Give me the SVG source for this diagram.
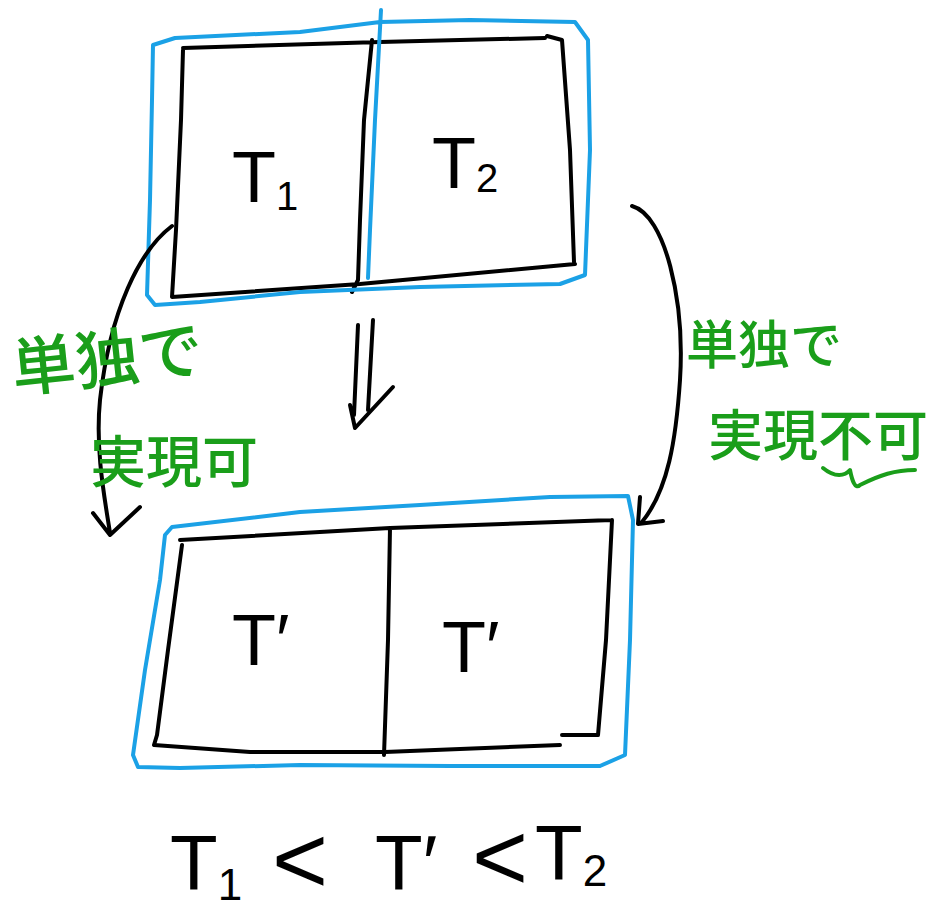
<svg xmlns="http://www.w3.org/2000/svg" width="932" height="920" viewBox="0 0 932 920">
<style>
.k{fill:none;stroke:#000;stroke-width:4;stroke-linecap:round;stroke-linejoin:round}
.b{fill:none;stroke:#1ba1e6;stroke-width:4;stroke-linecap:round;stroke-linejoin:round}
.g{fill:none;stroke:#1a9e1a;stroke-width:4;stroke-linecap:round;stroke-linejoin:round}
.t{font-family:"Liberation Sans",sans-serif;fill:#000}
.j{font-family:"Noto Sans CJK JP",sans-serif;fill:#1a9e1a;font-weight:500}
</style>
<rect width="932" height="920" fill="#fff"/>
<g id="top-box">
<path class="k" d="M183,50 L181,120 L176,230 L172,297 L360,284 L575,264 M183,48 L380,42 L545,38 M547,36 L562,40 L570,150 L574,262 M372,40 L364,120 L360,220 L358,280 L352,292"/>
<path class="b" d="M153,45 L175,38 L300,32 L380,22 L470,20 L575,22 L588,40 L590,150 L585,275 L560,284 L420,287 L300,292 L200,302 L155,305 L147,295 L150,200 L152,100 Z M381,10 L375,120 L370,230 L368,278"/>
<text class="t" x="232" y="202" font-size="72">T<tspan font-size="40" dy="8">1</tspan></text>
<text class="t" x="432" y="188" font-size="72">T<tspan font-size="40" dy="4">2</tspan></text>
</g>
<g id="bottom-box">
<path class="k" d="M182,545 L180,560 L168,650 L157,735 L154,745 L250,752 L385,752 L560,745 M180,540 L390,528 L612,520 M612,520 L606,640 L598,735 L562,735 M390,528 L388,640 L384,755"/>
<path class="b" d="M172,527 L300,512 L420,505 L550,497 L628,496 L633,520 L630,640 L625,755 L600,766 L450,766 L300,765 L180,768 L138,767 L133,755 L145,670 L160,580 L165,535 Z"/>
<text class="t" x="232" y="665" font-size="72">T′</text>
<text class="t" x="442" y="672" font-size="72">T′</text>
</g>
<g id="connectors">
<path class="k" d="M358,325 L354,415 M373,320 L368,410 M350,405 L355,428 L393,387"/>
<path class="k" d="M172,226 C140,250 110,310 100,400 C95,450 105,500 110,533 M93,513 L110,535 L140,507"/>
<path class="k" d="M632,206 C665,215 685,300 680,380 C676,440 668,490 642,522 M640,497 L638,524 L663,521"/>
</g>
<g id="label-left">
<text class="j" x="14" y="392" font-size="64" transform="rotate(-6 14 392)">単独で</text>
<text class="j" x="90" y="482" font-size="56">実現可</text>
</g>
<g id="label-right">
<text class="j" x="686" y="364" font-size="52">単独で</text>
<text class="j" x="708" y="455" font-size="55">実現不可</text>
<path class="g" d="M823,468 C835,478 845,476 850,470 C852,480 855,490 860,485 C880,475 895,470 915,470"/>
</g>
<g id="formula">
<text class="t" x="170" y="890" font-size="78">T<tspan font-size="44" dy="10">1</tspan></text>
<text class="t" x="272" y="893" font-size="96" font-weight="300">&lt;</text>
<text class="t" x="375" y="890" font-size="78">T′</text>
<text class="t" x="472" y="890" font-size="96" font-weight="300">&lt;</text>
<text class="t" x="535" y="880" font-size="78">T<tspan font-size="44" dy="6">2</tspan></text>
</g>
</svg>
